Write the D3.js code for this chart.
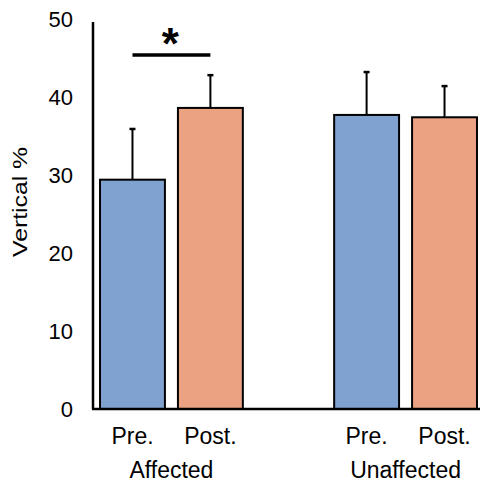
<!DOCTYPE html>
<html><head><meta charset="utf-8">
<script src="https://cdn.jsdelivr.net/npm/d3@7"></script>
<style>body{margin:0;background:#fff;}svg{display:block;font-family:"Liberation Sans",Arial,sans-serif;}</style>
</head><body>
<svg id="chart" width="480" height="485"></svg>
<script>
const groups = ["Affected", "Unaffected"];
const phases = ["Pre.", "Post."];
const means = [[29.4, 38.6], [37.7, 37.4]];
const errors = [[6.5, 4.2], [5.5, 4.0]];
const yTicks = [0, 10, 20, 30, 40, 50];
const colors = ["#7fa2d0", "#eba283"];
const yLabel = "Vertical %";
const sig = {group: "Affected", from: "Pre.", to: "Post.", y: 45.4, label: "*"};

const svg = d3.select("#chart");
const x0 = d3.scaleBand().domain(groups).range([93, 484]).paddingInner(0.39).paddingOuter(0.03);
const x1 = d3.scaleBand().domain(phases).range([0, x0.bandwidth()]).paddingInner(0.167).paddingOuter(0);
const y = d3.scaleLinear().domain([0, 50]).range([409, 19]);

const data = [];
groups.forEach((g, gi) => phases.forEach((p, pi) => data.push({g, p, pi, v: means[gi][pi], e: errors[gi][pi]})));

// error bars
const eb = svg.append("g");
data.forEach(d => {
  const cx = x0(d.g) + x1(d.p) + x1.bandwidth() / 2;
  eb.append("line").attr("x1", cx).attr("x2", cx).attr("y1", y(d.v)).attr("y2", y(d.v + d.e))
    .attr("stroke", "#000").attr("stroke-width", 2);
  eb.append("line").attr("x1", cx - 3).attr("x2", cx + 3).attr("y1", y(d.v + d.e)).attr("y2", y(d.v + d.e))
    .attr("stroke", "#000").attr("stroke-width", 2.5);
});

// bars
svg.append("g").selectAll("rect").data(data).join("rect")
  .attr("x", d => x0(d.g) + x1(d.p))
  .attr("y", d => y(d.v))
  .attr("width", x1.bandwidth())
  .attr("height", d => y(0) - y(d.v))
  .attr("fill", d => colors[d.pi])
  .attr("stroke", "#000").attr("stroke-width", 2);

// y axis
const yAxis = svg.append("g").attr("transform", "translate(93,0)")
  .call(d3.axisLeft(y).tickValues(yTicks).tickSize(0).tickPadding(20));
yAxis.select(".domain").attr("stroke", "#000").attr("stroke-width", 2.5).attr("d", `M0,${y(0)}V${y(49.6)}`);
yAxis.selectAll("text").attr("font-size", 22).attr("fill", "#000").attr("font-family", "Liberation Sans, Arial, sans-serif");

// baseline
svg.append("line").attr("x1", 92).attr("x2", 480).attr("y1", y(0)).attr("y2", y(0))
  .attr("stroke", "#000").attr("stroke-width", 2.5);

// x labels
data.forEach(d => {
  svg.append("text").attr("x", x0(d.g) + x1(d.p) + x1.bandwidth() / 2).attr("y", 444)
    .attr("text-anchor", "middle").attr("font-size", 23).attr("fill", "#000").text(d.p);
});
groups.forEach(g => {
  svg.append("text").attr("x", x0(g) + x0.bandwidth() / 2).attr("y", 478)
    .attr("text-anchor", "middle").attr("font-size", 23).attr("fill", "#000").text(g);
});

// y label
svg.append("text").attr("transform", "translate(27,202) rotate(-90)")
  .attr("text-anchor", "middle").attr("font-size", 20).attr("fill", "#000")
  .attr("textLength", 110).attr("lengthAdjust", "spacingAndGlyphs").text(yLabel);

// significance
const sx1 = x0(sig.group) + x1(sig.from) + x1.bandwidth() / 2;
const sx2 = x0(sig.group) + x1(sig.to) + x1.bandwidth() / 2;
svg.append("line").attr("x1", sx1).attr("x2", sx2).attr("y1", y(sig.y)).attr("y2", y(sig.y))
  .attr("stroke", "#000").attr("stroke-width", 3.5);
svg.append("text").attr("x", (sx1 + sx2) / 2 - 1).attr("y", 59).attr("text-anchor", "middle")
  .attr("font-size", 44).attr("font-weight", "bold").attr("fill", "#000").text(sig.label);
</script>
</body></html>
